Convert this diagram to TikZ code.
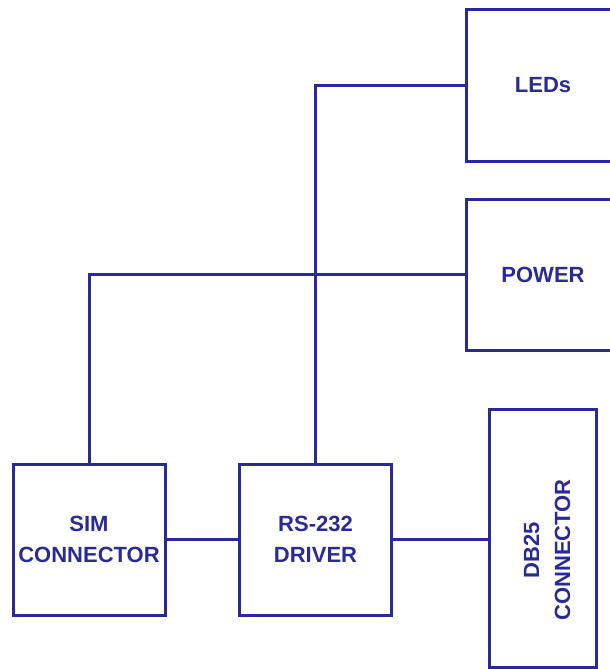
\documentclass[tikz,border=0pt]{standalone}
\usepackage{fontspec}
\setmainfont{Liberation Sans}
\definecolor{navy}{RGB}{42,42,150}

\begin{document}
\begin{tikzpicture}[x=1pt, y=-1pt,
    block/.style={draw=navy, line width=3pt, minimum width=152pt, minimum height=151pt,
        inner sep=0pt, text=navy, align=center, font=\fontsize{22}{31}\selectfont\bfseries},
    wire/.style={navy, line width=3pt}]

\useasboundingbox (0,0) rectangle (610,669);

% Blocks
\node[block, minimum width=154pt] (leds) at (543, 85.5) {LEDs};
\node[block, minimum width=154pt] (power) at (543, 274.5) {POWER};
\node[block] (sim) at (89, 539.5) {SIM\\CONNECTOR};
\node[block] (driver) at (315.5, 539.5) {RS-232\\DRIVER};
\node[block, minimum width=107pt, minimum height=258pt] (db25) at (542.5, 538) {};
\node[text=navy, align=center, rotate=90, font=\fontsize{22}{31}\selectfont\bfseries]
    (db25label) at (547, 550) {DB25\\CONNECTOR};

% Connections
\draw[wire] (leds.west) -| (driver.north);
\draw[wire] (power.west) -| (sim.north);
\draw[wire] (sim.east) -- (driver.west);
\draw[wire] (driver.east) -- (driver.east -| db25.west);

\end{tikzpicture}
\end{document}
